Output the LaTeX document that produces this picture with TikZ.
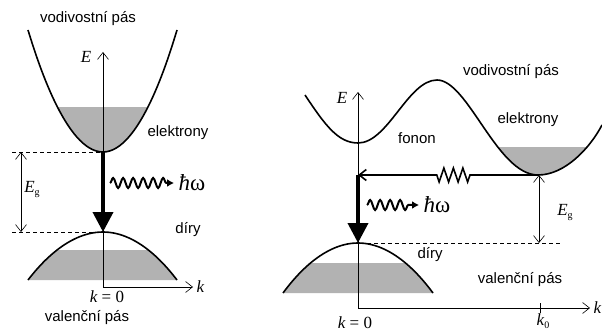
\documentclass[tikz,border=0pt]{standalone}
\usepackage[no-math]{fontspec}
\setmainfont{Liberation Sans}
\newfontfamily\tms{Liberation Serif}
\usepackage{tikz}
\usetikzlibrary{arrows.meta, decorations.pathmorphing, positioning, calc}

\newcommand{\vi}[1]{{\tms\itshape #1}}

\begin{document}
\begin{tikzpicture}[
    x=1pt, y=-1pt,
    font=\fontsize{15}{18}\selectfont,
    band/.style={line width=1.6pt},
    axis/.style={line width=0.6pt, -{Straight Barb[length=7pt, width=11pt]}},
    gap/.style={line width=0.6pt, {Straight Barb[length=7pt, width=11pt]}-{Straight Barb[length=7pt, width=11pt]}},
    level/.style={line width=0.6pt, dash pattern=on 4pt off 3pt},
    drop/.style={line width=3.8pt, -{Triangle[length=20pt, width=20pt]}},
    photon/.style={line width=2pt, -{Latex[length=7pt, width=8pt]},
                   decorate, decoration={snake, amplitude=5pt, segment length=10pt, post length=7pt}},
    filled/.style={fill=black!30},
    mathlbl/.style={font=\fontsize{17}{19}\selectfont\tms},
    hw/.style={font=\fontsize{23}{25}\selectfont\tms, anchor=west},
]
\useasboundingbox (0,0) rectangle (602,331);

% ---- left: direct gap ----
\coordinate (lo) at (103,287);
\coordinate (cmin) at (103,152);
\coordinate (vmax) at (103,232);
\coordinate (ltop) at (103,52);
\coordinate (lk) at (193,287);

% shaded electrons and holes
\begin{scope}
  \clip (0,108) rectangle (200,160);
  \fill[filled] (28,30) parabola bend (cmin) (177,30) -- cycle;
\end{scope}
\begin{scope}
  \clip (0,250) rectangle (200,290);
  \fill[filled] (28,280) parabola bend (vmax) (177,280) -- cycle;
\end{scope}

% bands
\draw[band] (28,30) parabola bend (cmin) (177,30);
\draw[band] (28,280) parabola bend (vmax) (177,280);

% axes
\draw[axis] (lo) -- (ltop);
\draw[axis] (lo) -- (lk);
\node[mathlbl] (lE) at (86,57) {\itshape E};
\node[mathlbl, right=0pt of lk] (lklbl) {\itshape k};
\node[mathlbl] (lk0) at (107,297) {\itshape k\upshape\ = 0};

% gap
\coordinate (ldash1) at (12,152);
\coordinate (ldash2) at (12,232);
\draw[level] (ldash1) -- (cmin);
\draw[level] (ldash2) -- (vmax);
\coordinate (lg1) at (21,152);
\coordinate (lg2) at (21,232);
\draw[gap] (lg1) -- (lg2);
\node[mathlbl] (lEg) at (32,190) {\itshape E\upshape\raisebox{-3pt}{\fontsize{10}{10}\selectfont g}};

% recombination
\draw[drop] (cmin) -- (vmax);
\coordinate (lw1) at (110,183);
\coordinate (lw2) at (174,183);
\draw[photon] (lw1) -- (lw2);
\node[hw] (lhw) at (175,183) {\itshape ħ\upshape ω};

% labels
\node (lcb) at (88,19) {vodivostní pás};
\node (lel) at (178,133) {elektrony};
\node (lho) at (188,230) {díry};
\node (lvb) at (87,318) {valenční pás};

% ---- right: indirect gap ----
\coordinate (ro) at (358,308);
\coordinate (rtop) at (358,92);
\coordinate (rk) at (590,308);
\coordinate (rmin) at (538,175);
\coordinate (rmid) at (358,175);
\coordinate (rvmax) at (358,243);

% shaded electrons and holes
\begin{scope}
  \clip (480,148) rectangle (602,200);
  \fill[filled] (305,95) .. controls (325,125) and (338,143) .. (358,143)
     .. controls (388,143) and (408,80) .. (437,80)
     .. controls (468,80) and (497,175) .. (rmin)
     .. controls (565,175) and (590,148) .. (602,125) -- (602,60) -- (305,60) -- cycle;
\end{scope}
\begin{scope}
  \clip (280,263) rectangle (440,300);
  \fill[filled] (283,293) parabola bend (rvmax) (433,293) -- cycle;
\end{scope}

% bands
\draw[band] (305,95) .. controls (325,125) and (338,143) .. (358,143)
   .. controls (388,143) and (408,80) .. (437,80)
   .. controls (468,80) and (497,175) .. (rmin)
   .. controls (565,175) and (590,148) .. (602,125);
\draw[band] (283,293) parabola bend (rvmax) (433,293);

% axes
\draw[axis] (ro) -- (rtop);
\draw[axis] (ro) -- (rk);
\coordinate (rt1) at (540,303);
\coordinate (rt2) at (540,313);
\draw[line width=0.6pt] (rt1) -- (rt2);
\node[mathlbl] (rE) at (342,98) {\itshape E};
\node[mathlbl, right=0pt of rk] (rklbl) {\itshape k};
\node[mathlbl] (rk0) at (355,323) {\itshape k\upshape\ = 0};
\node[mathlbl] (rko) at (543,321) {\itshape k\upshape\raisebox{-3pt}{\fontsize{10}{10}\selectfont 0}};

% gap
\coordinate (rdash1) at (367,243);
\coordinate (rdash2) at (562,243);
\draw[level] (rdash1) -- (rdash2);
\coordinate (rg1) at (539,175);
\coordinate (rg2) at (539,243);
\draw[gap] (rg1) -- (rg2);
\node[mathlbl] (rEg) at (565,213) {\itshape E\upshape\raisebox{-3pt}{\fontsize{10}{10}\selectfont g}};

% phonon step and recombination
\draw[line width=1.6pt, -{Straight Barb[length=7pt, width=11pt]},
      decorate, decoration={zigzag, amplitude=7pt, segment length=9.5pt,
                            pre length=68pt, post length=75pt}] (rmin) -- (rmid);
\draw[drop] (rmid) -- (rvmax);
\coordinate (rw1) at (367,205);
\coordinate (rw2) at (419,205);
\draw[photon] (rw1) -- (rw2);
\node[hw] (rhw) at (420,205) {\itshape ħ\upshape ω};

% labels
\node (rcb) at (511,72) {vodivostní pás};
\node (rel) at (528,120) {elektrony};
\node (rfo) at (417,138) {fonon};
\node (rho) at (430,255) {díry};
\node (rvb) at (520,280) {valenční pás};
\end{tikzpicture}
\end{document}
